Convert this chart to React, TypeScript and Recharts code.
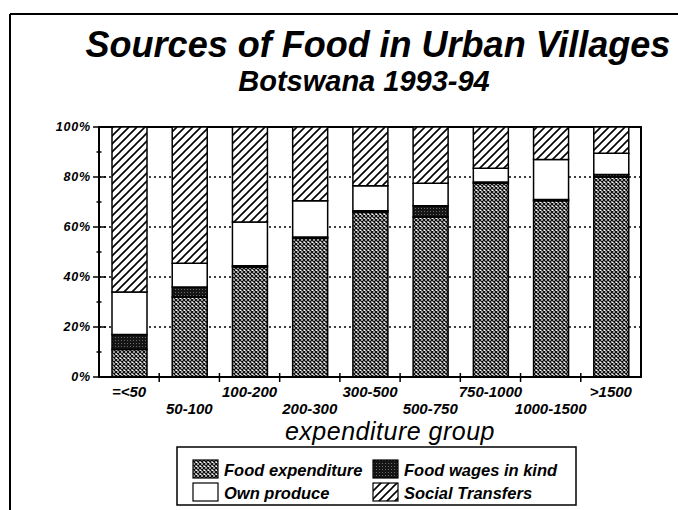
import { BarChart, Bar, XAxis, YAxis, CartesianGrid, ReferenceArea } from "recharts";

const groups = ["=<50", "50-100", "100-200", "200-300", "300-500", "500-750", "750-1000", "1000-1500", ">1500"];
const foodExpenditure = [11, 32, 44, 55.5, 66, 64, 77.5, 70.5, 80];
const foodWages = [6, 4, 0.5, 0.5, 0.5, 4.5, 0.5, 0.5, 1];
const ownProduce = [17, 9.5, 17.5, 14.5, 10, 9, 5.5, 16, 8.5];
const socialTransfers = [66, 54.5, 38, 29.5, 23.5, 22.5, 16.5, 13, 10.5];
// every 10% gets a tick mark, every 20% a label
const yTicks = [0, 10, 20, 30, 40, 50, 60, 70, 80, 90, 100];
const gridValues = [20, 40, 60, 80];

const series = [
  { key: "food", name: "Food expenditure", values: foodExpenditure, pattern: "foodExp" },
  { key: "wages", name: "Food wages in kind", values: foodWages, pattern: "foodWages" },
  { key: "own", name: "Own produce", values: ownProduce, pattern: "ownProduce" },
  { key: "social", name: "Social Transfers", values: socialTransfers, pattern: "socialTr" },
];

const data = groups.map((group, i) => {
  const row: Record<string, string | number> = { group };
  series.forEach((s) => (row[s.key] = s.values[i]));
  return row;
});

const FONT = "'Liberation Sans', Arial, sans-serif";

function Patterns({ prefix }: { prefix: string }) {
  return (
    <defs>
      <pattern id={prefix + "foodExp"} width="4" height="4" patternUnits="userSpaceOnUse">
        <rect width="4" height="4" fill="#fff" />
        <path d="M0,0 L4,4 M4,0 L0,4" stroke="#111" strokeWidth="1.3" />
      </pattern>
      <pattern id={prefix + "foodWages"} width="3" height="3" patternUnits="userSpaceOnUse">
        <rect width="3" height="3" fill="#151515" />
        <rect x="1" y="1" width="1" height="1" fill="#6a6a6a" />
      </pattern>
      <pattern id={prefix + "ownProduce"} width="4" height="4" patternUnits="userSpaceOnUse">
        <rect width="4" height="4" fill="#fff" />
      </pattern>
      <pattern id={prefix + "socialTr"} width="8" height="8" patternUnits="userSpaceOnUse">
        <rect width="8" height="8" fill="#fff" />
        <path d="M-2,2 L2,-2 M0,8 L8,0 M6,10 L10,6" stroke="#000" strokeWidth="1.6" />
      </pattern>
    </defs>
  );
}

function GroupTick({ x, y, payload, index, width, visibleTicksCount }: any) {
  const i = payload?.index ?? index;
  const step = width && visibleTicksCount ? width / visibleTicksCount : 0;
  const edge = x + step / 2;
  return (
    <g>
      {step > 0 && i < visibleTicksCount - 1 && (
        <line x1={edge} y1={y - 4} x2={edge} y2={y + 5} stroke="#000" strokeWidth={1.5} />
      )}
      <text
        x={x}
        y={y}
        dy={i % 2 === 1 ? 37 : 20}
        textAnchor="middle"
        fontFamily={FONT}
        fontSize={15}
        fontWeight="bold"
        fontStyle="italic"
        fill="#000"
      >
        {payload.value}
      </text>
    </g>
  );
}

function PercentTick({ x, y, payload }: any) {
  const major = payload.value % 20 === 0;
  return (
    <g>
      <line
        x1={major ? x - 6 : x - 2.5}
        y1={y}
        x2={major ? x + 7 : x + 2.5}
        y2={y}
        stroke="#000"
        strokeWidth={1.5}
      />
      {major && (
        <text
          x={x - 8}
          y={y}
          dy={4}
          textAnchor="end"
          fontFamily={FONT}
          fontSize={12.5}
          fontWeight="bold"
          fontStyle="italic"
          letterSpacing={0.8}
          fill="#000"
        >
          {payload.value}%
        </text>
      )}
    </g>
  );
}

function Overlay() {
  const cols = [193, 373];
  const rows = [460, 483];
  return (
    <svg
      width={678}
      height={510}
      style={{ position: "absolute", left: 0, top: 0, pointerEvents: "none" }}
    >
      <Patterns prefix="lg-" />
      <line x1={10} y1={14} x2={678} y2={14} stroke="#000" strokeWidth={2} />
      <line x1={10} y1={14} x2={10} y2={510} stroke="#000" strokeWidth={2} />
      <text x={378} y={57} textAnchor="middle" fontFamily={FONT} fontSize={36} fontWeight="bold" fontStyle="italic">
        Sources of Food in Urban Villages
      </text>
      <text x={364} y={91} textAnchor="middle" fontFamily={FONT} fontSize={29} fontWeight="bold" fontStyle="italic">
        Botswana 1993-94
      </text>
      <text x={390} y={440} textAnchor="middle" fontFamily={FONT} fontSize={25} fontStyle="italic" letterSpacing={0.5}>
        expenditure group
      </text>
      <rect x={177} y={447} width={399} height={58} fill="#fff" stroke="#000" strokeWidth={1.5} />
      {series.map((s, i) => {
        const sx = cols[i % 2];
        const sy = rows[Math.floor(i / 2)];
        return (
          <g key={s.key}>
            <rect x={sx} y={sy} width={25} height={18} fill={`url(#lg-${s.pattern})`} stroke="#000" strokeWidth={1.2} />
            <text x={sx + 31} y={sy + 16} fontFamily={FONT} fontSize={16.5} fontWeight="bold" fontStyle="italic">
              {s.name}
            </text>
          </g>
        );
      })}
    </svg>
  );
}

export default function App() {
  return (
    <div style={{ position: "absolute", left: 0, top: 0, width: 678, height: 510, background: "#fff" }}>
      <BarChart width={678} height={510} data={data} margin={{ top: 127, right: 37, bottom: 83, left: 0 }}>
        <Patterns prefix="" />
        <CartesianGrid
          vertical={false}
          horizontalValues={gridValues}
          stroke="#000"
          strokeWidth={1.5}
          strokeDasharray="2 3"
        />
        <XAxis
          dataKey="group"
          interval={0}
          height={50}
          tickLine={false}
          tickSize={0}
          tickMargin={0}
          axisLine={{ stroke: "#000", strokeWidth: 2 }}
          tick={<GroupTick />}
        />
        <YAxis
          domain={[0, 100]}
          ticks={yTicks}
          interval={0}
          width={99}
          tickSize={0}
          tickMargin={0}
          axisLine={{ stroke: "#000", strokeWidth: 2 }}
          tickLine={false}
          tick={<PercentTick />}
        />
        {series.map((s) => (
          <Bar
            key={s.key}
            dataKey={s.key}
            name={s.name}
            stackId="a"
            barSize={35}
            fill={`url(#${s.pattern})`}
            stroke="#000"
            strokeWidth={1.5}
            isAnimationActive={false}
          />
        ))}
        <ReferenceArea y1={0} y2={100} fill="none" stroke="#000" strokeWidth={2} />
      </BarChart>
      <Overlay />
    </div>
  );
}
